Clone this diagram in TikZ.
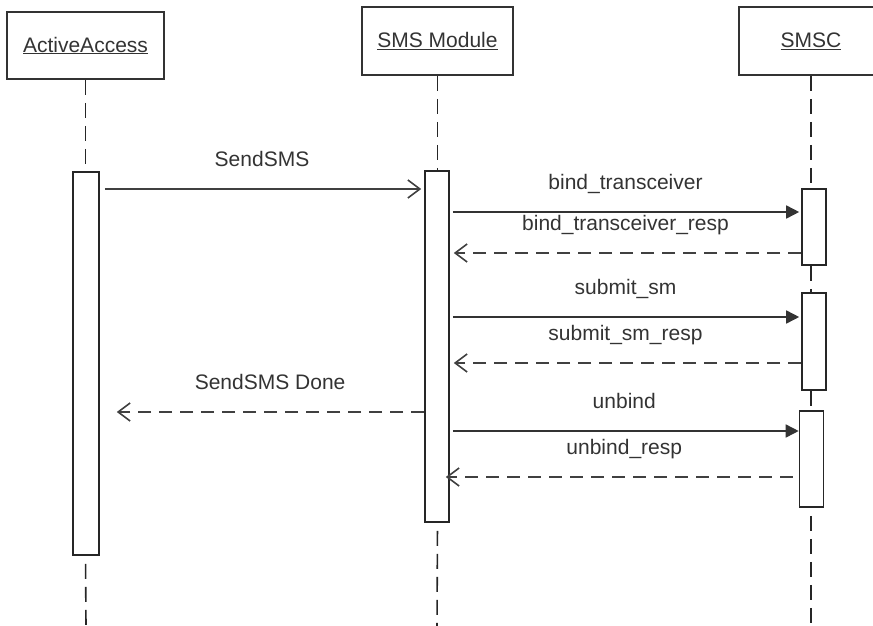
\documentclass[tikz,border=0pt]{standalone}
\usepackage{fontspec}
\setmainfont{Liberation Sans}
\usetikzlibrary{arrows.meta}

\begin{document}
\begin{tikzpicture}[x=1pt,y=-1pt,
	head/.style={rectangle,draw=black!80,line width=1.6pt,fill=white,text=black!80,font=\fontsize{21}{25}\selectfont},
	bar/.style={rectangle,draw=black!85,line width=1.6pt,fill=white,minimum width=24pt,inner sep=0pt},
	life/.style={draw=black!85,line width=1.6pt,dash pattern=on 15pt off 8pt},
	call/.style={draw=black!80,line width=1.6pt,-{Triangle[length=13pt,width=13pt]}},
	send/.style={draw=black!75,line width=1.6pt,-{Straight Barb[length=12pt,width=18pt]}},
	reply/.style={draw=black!75,line width=1.6pt,dash pattern=on 13pt off 8pt,-{Straight Barb[length=12pt,width=18pt]}},
	lbl/.style={midway,anchor=base,yshift=23pt,text=black!80,font=\fontsize{21}{25}\selectfont}]
	\useasboundingbox (0,0) rectangle (873,626);

	% objects
	\node[head,minimum width=157pt,minimum height=67pt] (aa) at (85.5,45.5) {\underline{ActiveAccess}};
	\node[head,minimum width=151pt,minimum height=68pt] (sm) at (437.5,41) {\underline{SMS Module}};
	\node[head,minimum width=144pt,minimum height=68pt] (sc) at (811,41) {\underline{SMSC}};

	% activations
	\node[bar,minimum width=26pt,minimum height=383pt] (aaBar) at (86,363.5) {};
	\node[bar,minimum height=351pt] (smBar) at (437,346.5) {};
	\node[bar,minimum height=76pt] (scBar1) at (814,227) {};
	\node[bar,minimum height=97pt] (scBar2) at (814,341.5) {};
	\node[bar,minimum height=96pt] (scBar3) at (811.5,459) {};

	% lifelines
	\coordinate (aaEnd) at (86,626);
	\coordinate (smEnd) at (437,626);
	\coordinate (scEnd) at (811,626);
	\draw[life] (aa.south) -- (aa.south |- aaBar.north);
	\draw[life,dash phase=15pt] (aa.south |- aaBar.south) -- (aaEnd);
	\draw[life] (sm.south) -- (sm.south |- smBar.north);
	\draw[life,dash phase=15pt] (sm.south |- smBar.south) -- (smEnd);
	\draw[life] (sc.south) -- (sc.south |- scBar1.north);
	\draw[life] (sc.south |- scBar1.south) -- (sc.south |- scBar2.north);
	\draw[life] (sc.south |- scBar2.south) -- (sc.south |- scBar3.north);
	\draw[life,dash phase=15pt] (sc.south |- scBar3.south) -- (scEnd);

	% messages
	\coordinate (yA) at (0,189);
	\coordinate (yB) at (0,212);
	\coordinate (yC) at (0,253);
	\coordinate (yD) at (0,317);
	\coordinate (yE) at (0,363);
	\coordinate (yF) at (0,412);
	\coordinate (yG) at (0,431);
	\coordinate (yH) at (0,477);
	\draw[send,shorten <=5pt,shorten >=3pt] (aaBar.east |- yA) -- (smBar.west |- yA) node[lbl]{SendSMS};
	\draw[call,shorten <=3pt,shorten >=2pt] (smBar.east |- yB) -- (scBar1.west |- yB) node[lbl]{bind\_transceiver};
	\draw[reply,shorten >=4pt] (scBar1.west |- yC) -- (smBar.east |- yC) node[lbl]{bind\_transceiver\_resp};
	\draw[call,shorten <=3pt,shorten >=2pt] (smBar.east |- yD) -- (scBar2.west |- yD) node[lbl]{submit\_sm};
	\draw[reply,shorten >=4pt] (scBar2.west |- yE) -- (smBar.east |- yE) node[lbl]{submit\_sm\_resp};
	\draw[reply,shorten >=17pt] (smBar.west |- yF) -- (aaBar.east |- yF) node[lbl,pos=0.475]{SendSMS Done};
	\draw[call,shorten <=3pt] (smBar.east |- yG) -- (scBar3.west |- yG) node[lbl]{unbind};
	\draw[reply,shorten <=6pt,shorten >=-4pt] (scBar3.west |- yH) -- (smBar.east |- yH) node[lbl]{unbind\_resp};
\end{tikzpicture}
\end{document}
